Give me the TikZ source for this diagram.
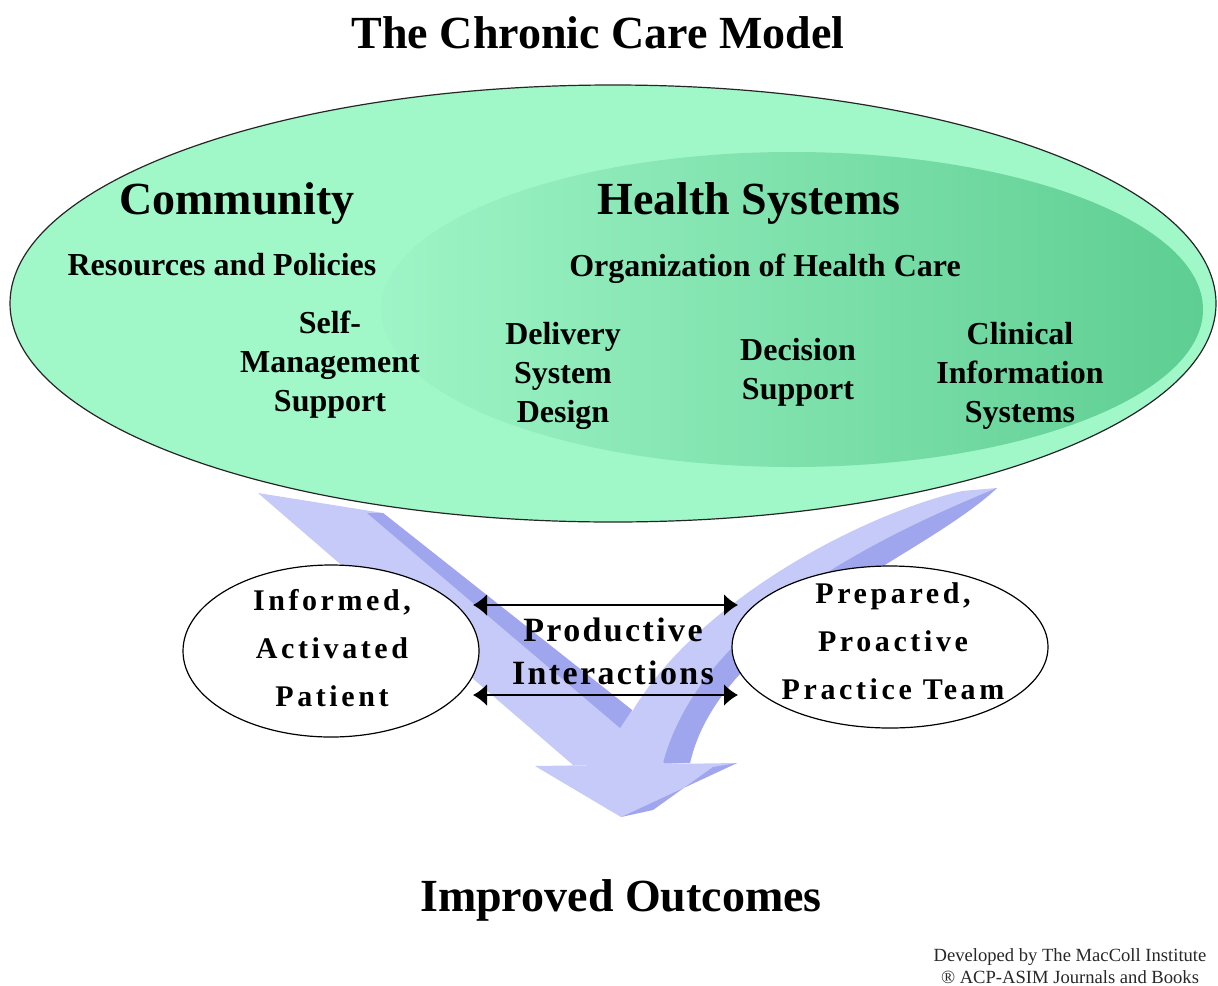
\documentclass[tikz,border=0pt]{standalone}
\usepackage{fontspec}
\setmainfont{Liberation Serif}
\newfontfamily\spacedA[LetterSpace=12]{Liberation Serif}
\newfontfamily\spacedB[LetterSpace=7]{Liberation Serif}
\usetikzlibrary{shapes.geometric,arrows.meta}
\definecolor{mint}{RGB}{160,248,200}
\definecolor{innerL}{RGB}{158,244,198}
\definecolor{innerM}{RGB}{138,228,178}
\definecolor{innerR}{RGB}{94,206,146}
\definecolor{lavL}{RGB}{198,202,248}
\definecolor{lavD}{RGB}{160,166,238}
\definecolor{foot}{RGB}{40,40,40}
\tikzset{
  bigtitle/.style={font=\fontsize{23}{27}\selectfont\bfseries, inner sep=0pt},
  subtitle/.style={font=\fontsize{16}{19.5}\selectfont\bfseries, inner sep=0pt, align=center},
  elltext/.style={font=\spacedA\fontsize{15}{24}\selectfont\bfseries, inner sep=0pt, align=center},
  midtext/.style={font=\spacedB\fontsize{17}{21.5}\selectfont\bfseries, inner sep=0pt, align=center},
  smallell/.style={ellipse, draw=black, line width=0.6pt, fill=white, inner sep=0pt},
  lavlight/.style={fill=lavL, draw=none},
  lavdark/.style={fill=lavD, draw=none},
  dblarrow/.style={{Latex[length=7pt,width=11pt]}-{Latex[length=7pt,width=11pt]}, line width=1pt},
}
\begin{document}
\begin{tikzpicture}[x=0.5pt,y=-0.5pt]
\useasboundingbox (0,0) rectangle (1218,985);
\fill[white] (0,0) rectangle (1218,985);

% right arm
\path[lavlight] (997,488) -- (962,491) .. controls (860,515) and (700,600) .. (633,710)
  -- (640,765) -- (690,763) .. controls (720,630) and (920,560) .. (997,488) -- cycle;
\path[lavdark] (997,488) .. controls (870,540) and (700,625) .. (663,763)
  -- (690,763) .. controls (720,630) and (920,560) .. (997,488) -- cycle;
% left arm
\path[lavlight] (258,493) -- (383,513) -- (632,710) -- (665,765) -- (573,765) -- cycle;
\path[lavdark] (367,513) -- (383,513) -- (632,710) -- (620,728) -- cycle;
% arrow head
\path[lavlight] (535,766) -- (737,763) -- (621,817) -- cycle;
\path[lavdark] (737,763) -- (621,817) -- (653,810) -- (713,767) -- cycle;

% big ellipse
\node[ellipse, draw=black!85, line width=0.6pt, fill=mint, inner sep=0pt,
      minimum width=603pt, minimum height=218.5pt] (outer) at (613,303.5) {};
\node[ellipse, inner sep=0pt, minimum width=411pt, minimum height=157.5pt,
      left color=innerL, middle color=innerM, right color=innerR] (inner) at (792,309.5) {};

% titles and labels
\node[bigtitle] (title) at (598,33) {The Chronic Care Model};
\node[bigtitle] (community) at (237,204) {Community};
\node[bigtitle] (health) at (749,204) {Health Systems};
\node[subtitle] (resources) at (222,265) {Resources and Policies};
\node[subtitle] (organization) at (765,269) {Organization of Health Care};
\node[subtitle] (selfman) at (330,365) {Self-\\Management\\Support};
\node[subtitle] (delivery) at (563,376) {Delivery\\System\\Design};
\node[subtitle] (decision) at (798,372.5) {Decision\\Support};
\node[subtitle] (clinical) at (1020,376) {Clinical\\Information\\Systems};

% small ellipses
\node[smallell, minimum width=148pt, minimum height=86pt] (pat) at (331,651) {};
\node[smallell, minimum width=158pt, minimum height=81pt] (team) at (890,647) {};
\node[elltext] (pattext) at (332,648) {Informed,\\Activated\\Patient};
\node[elltext] (teamtext) at (893,641) {Prepared,\\Proactive\\Practice Team};

% interactions
\coordinate (u1) at (473,605);
\coordinate (u2) at (738,605);
\coordinate (l1) at (473,695);
\coordinate (l2) at (738,695);
\draw[dblarrow] (u1) -- (u2);
\draw[dblarrow] (l1) -- (l2);
\node[midtext] (prod) at (613,651.5) {Productive\\Interactions};

% outcome
\node[bigtitle] (outcome) at (621,900) {Improved Outcomes};

% footer
\node[font=\fontsize{9.3}{11}\selectfont, text=foot, inner sep=0pt, align=center] (footer) at (1070,966)
  {Developed by The MacColl Institute\\\textregistered\ ACP-ASIM Journals and Books};
\end{tikzpicture}
\end{document}
